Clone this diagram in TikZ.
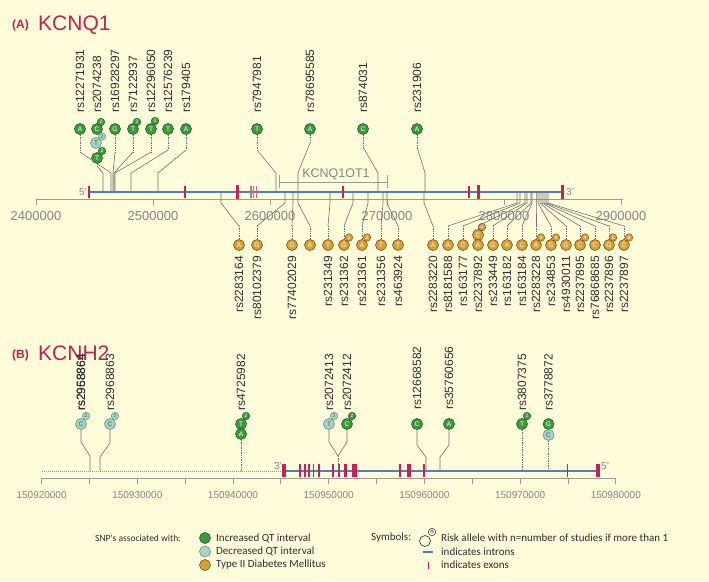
\documentclass[tikz,border=0pt]{standalone}
\usepackage{fontspec}
\setmainfont{Liberation Sans}
\newfontfamily\legfont{Carlito}
\definecolor{bgc}{HTML}{FEFCDA}
\definecolor{gfill}{HTML}{3C9B3C}
\definecolor{gdark}{HTML}{1E5E1E}
\definecolor{bfill}{HTML}{A8D4C4}
\definecolor{bdark}{HTML}{5F8F85}
\definecolor{btext}{HTML}{3D5F58}
\definecolor{ofill}{HTML}{D9A037}
\definecolor{odark}{HTML}{7A5410}
\definecolor{titlec}{HTML}{C0244B}
\definecolor{exonc}{HTML}{C42453}
\definecolor{exonl}{HTML}{D86A84}
\definecolor{intronc}{HTML}{4F7FC0}
\definecolor{linec}{HTML}{707070}
\definecolor{axisc}{HTML}{9A9A9A}
\definecolor{labc}{HTML}{2E2E2E}
\definecolor{grayt}{HTML}{858585}
\tikzset{
 snpg/.style={circle, draw=gdark, fill=gfill, line width=0.6pt, inner sep=0pt, minimum size=11pt, text=white, font=\fontsize{6.5}{7}\selectfont},
 snpb/.style={snpg, draw=bdark, fill=bfill, text=btext},
 snpo/.style={snpg, draw=odark, fill=ofill},
 bubg/.style={circle, draw=gdark, fill=gfill, line width=0.5pt, inner sep=0pt, minimum size=7.5pt, text=white, font=\fontsize{5}{5}\selectfont},
 bubb/.style={bubg, draw=bdark, fill=bfill, text=btext},
 bubo/.style={bubg, draw=odark, fill=ofill},
 lab/.style={rotate=90, inner sep=0pt, font=\fontsize{12}{12}\selectfont, text=labc},
 labup/.style={lab, anchor=west},
 labdn/.style={lab, anchor=east},
 conn/.style={draw=linec, line width=0.6pt},
 connd/.style={draw=linec, line width=0.7pt, densely dotted},
 axisl/.style={draw=axisc, line width=0.8pt},
 tickl/.style={text=grayt, inner sep=0pt, font=\fontsize{13}{13}\selectfont},
 tickls/.style={text=grayt, inner sep=0pt, font=\fontsize{10}{10}\selectfont},
 intron/.style={draw=intronc, line width=2pt},
 exthin/.style={draw=exonc, line width=1.3pt},
 exlight/.style={draw=exonl, line width=1.3pt},
 exthick/.style={draw=exonc, line width=3pt},
 endlab/.style={text=grayt, inner sep=0pt, font=\fontsize{10}{10}\selectfont},
 leg/.style={inner sep=0pt, text=labc, font=\legfont\fontsize{11}{11}\selectfont, anchor=west},
}
\newcommand\TopPath[3]{%
 \draw[connd] (#1.south) -- (#1.south |- 0,#2);
 \draw[conn] (#1.south |- 0,#2) -- (#3 |- 0,173) -- (#3);}
\newcommand\BotPath[2]{%
 \draw[conn] (#2) -- (#2 |- 0,203) -- (#1.north |- 0,226);
 \draw[connd] (#1.north |- 0,226) -- (#1.north);}
\begin{document}
\begin{tikzpicture}[x=1pt,y=-1pt]
\fill[bgc] (0,0) rectangle (709,581);
\useasboundingbox (0,0) rectangle (709,581);

% ---------- titles
\node[anchor=base west, text=titlec, inner sep=0pt, font=\bfseries\fontsize{12}{12}\selectfont] (ta) at (12,28) {(A)};
\node[anchor=base west, text=titlec, inner sep=0pt, font=\fontsize{21}{21}\selectfont] (tq) at (38,30) {KCNQ1};
\node[anchor=base west, text=titlec, inner sep=0pt, font=\bfseries\fontsize{12}{12}\selectfont] (tb) at (12,358) {(B)};
\node[anchor=base west, text=titlec, inner sep=0pt, font=\fontsize{21}{21}\selectfont] (th) at (38,360) {KCNH2};

% ---------- KCNQ1 axis
\draw[axisl] (36,199) -- (623,199);
\foreach \i in {0,...,5} {\draw[axisl] (36+117*\i,199) -- (36+117*\i,205);}
\foreach \i/\t in {0/2400000,1/2500000,2/2600000,3/2700000,4/2800000,5/2900000}
 {\node[tickl] (qa\i) at (36+117*\i,216) {\t};}

% ---------- KCNQ1 gene
\draw[intron] (89,192) -- (562,192);
\foreach \x in {185,343,469} {\draw[exthin] (\x,186) -- (\x,198);}
\foreach \x in {251,253.6,256.2} {\draw[exlight] (\x,186) -- (\x,198);}
\draw[exthin] (89,186) -- (89,198);
\foreach \x in {237,478,562} {\draw[exthick] (\x,185) -- (\x,199);}
\node[endlab, anchor=east] (q5p) at (87,192) {5'};
\node[endlab, anchor=west] (q3p) at (566,192) {3'};

% KCNQ1OT1
\draw[axisl] (279,182) -- (387,182);
\draw[axisl] (279,175) -- (279,188);
\draw[axisl] (387,175) -- (387,188);
\node[text=grayt, inner sep=0pt, font=\fontsize{12.5}{12.5}\selectfont] (ot) at (336,174) {KCNQ1OT1};

% ---------- KCNQ1 upper SNPs (green)
\coordinate (q1g) at (111,192);
\coordinate (q2g) at (103,192);
\coordinate (q3g) at (113,192);
\coordinate (q4g) at (114,192);
\coordinate (q5g) at (115,192);
\coordinate (q6g) at (131,192);
\coordinate (q7g) at (158,192);
\coordinate (q8g) at (276,192);
\coordinate (q9g) at (298,192);
\coordinate (q10g) at (378,192);
\coordinate (q11g) at (425,192);

\node[snpg] (q1) at (80,129) {A};
\node[snpg] (q2) at (97,129) {C};
\node[snpb] (q2b) at (96,143) {T};
\node[snpg] (q2c) at (97,158) {T};
\node[snpg] (q3) at (115,129) {G};
\node[snpg] (q4) at (133,129) {T};
\node[snpg] (q5) at (151,129) {T};
\node[snpg] (q6) at (168,129) {T};
\node[snpg] (q7) at (186,129) {A};
\node[snpg] (q8) at (257,129) {T};
\node[snpg] (q9) at (310,129) {A};
\node[snpg] (q10) at (363,129) {C};
\node[snpg] (q11) at (417,129) {A};
\node[bubg] (q2n) at (101,122) {2};
\node[bubb] (q2bn) at (102,136.5) {2};
\node[bubg] (q2cn) at (102,151) {2};
\node[bubg] (q4n) at (137,122) {2};
\node[bubg] (q5n) at (155,121) {3};

\node[labup] (q1l) at (80,113) {rs12271931};
\node[labup] (q2l) at (97,113) {rs2074238};
\node[labup] (q3l) at (115,113) {rs16928297};
\node[labup] (q4l) at (133,113) {rs7122937};
\node[labup] (q5l) at (151,113) {rs12296050};
\node[labup] (q6l) at (168,113) {rs12576239};
\node[labup] (q7l) at (186,113) {rs179405};
\node[labup] (q8l) at (257,113) {rs7947981};
\node[labup] (q9l) at (310,113) {rs78695585};
\node[labup] (q10l) at (363,113) {rs874031};
\node[labup] (q11l) at (417,113) {rs231906};

\TopPath{q1}{152}{q1g}
\TopPath{q2c}{166}{q2g}
\TopPath{q3}{152}{q3g}
\TopPath{q4}{152}{q4g}
\TopPath{q5}{152}{q5g}
\TopPath{q6}{150}{q6g}
\TopPath{q7}{150}{q7g}
\TopPath{q8}{150}{q8g}
\TopPath{q9}{143}{q9g}
\TopPath{q10}{147}{q10g}
\TopPath{q11}{147}{q11g}

% ---------- KCNQ1 lower SNPs (orange)
\coordinate (b1g) at (221,192);
\coordinate (b2g) at (285,192);
\coordinate (b3g) at (293,192);
\coordinate (b4g) at (298,192);
\coordinate (b5g) at (330,192);
\coordinate (b6g) at (353,192);
\coordinate (b7g) at (368,192);
\coordinate (b8g) at (383,192);
\coordinate (b9g) at (387,192);
\coordinate (b10g) at (424,192);
\coordinate (b11g) at (517,192);
\coordinate (b12g) at (520,192);
\coordinate (b13g) at (525,192);
\coordinate (b14g) at (527,192);
\coordinate (b15g) at (531,192);
\coordinate (b16g) at (532,192);
\coordinate (b17g) at (536,192);
\coordinate (b18g) at (538,192);
\coordinate (b19g) at (540,192);
\coordinate (b20g) at (542,192);
\coordinate (b21g) at (544,192);
\coordinate (b22g) at (546,192);
\coordinate (b23g) at (548,192);

\node[snpo] (b1) at (239,245) {A};
\node[snpo] (b2) at (257,245) {G};
\node[snpo] (b3) at (292,245) {G};
\node[snpo] (b4) at (310,245) {A};
\node[snpo] (b5) at (328,245) {T};
\node[snpo] (b6) at (344,245) {G};
\node[snpo] (b7) at (362,245) {A};
\node[snpo] (b8) at (381,245) {T};
\node[snpo] (b9) at (398,245) {T};
\node[snpo] (b10) at (433,245) {A};
\node[snpo] (b11) at (448,245) {A};
\node[snpo] (b12) at (463,245) {C};
\node[snpo] (b13b) at (478,235) {C};
\node[snpo] (b13) at (478,245) {A};
\node[snpo] (b14) at (493,245) {G};
\node[snpo] (b15) at (507,245) {A};
\node[snpo] (b16) at (522,245) {C};
\node[snpo] (b17) at (536,245) {A};
\node[snpo] (b18) at (551,245) {G};
\node[snpo] (b19) at (566,245) {G};
\node[snpo] (b20) at (580,245) {C};
\node[snpo] (b21) at (595,245) {C};
\node[snpo] (b22) at (609,245) {G};
\node[snpo] (b23) at (624,245) {C};
\node[bubo] (b6n) at (349,237.5) {2};
\node[bubo] (b7n) at (367,237.5) {2};
\node[bubo] (b13n) at (482,227) {5};
\node[bubo] (b17n) at (541,237.5) {4};
\node[bubo] (b18n) at (556,237.5) {4};
\node[bubo] (b20n) at (585,237.5) {4};
\node[bubo] (b22n) at (613,237.5) {2};
\node[bubo] (b23n) at (629,237.5) {8};

\node[labdn] (b1l) at (239,256) {rs2283164};
\node[labdn] (b2l) at (257,256) {rs80102379};
\node[labdn] (b3l) at (292,256) {rs77402029};
\node[labdn] (b5l) at (328,256) {rs231349};
\node[labdn] (b6l) at (344,256) {rs231362};
\node[labdn] (b7l) at (362,256) {rs231361};
\node[labdn] (b8l) at (381,256) {rs231356};
\node[labdn] (b9l) at (398,256) {rs463924};
\node[labdn] (b10l) at (433,256) {rs2283220};
\node[labdn] (b11l) at (448,256) {rs8181588};
\node[labdn] (b12l) at (463,256) {rs163177};
\node[labdn] (b13l) at (478,256) {rs2237892};
\node[labdn] (b14l) at (493,256) {rs233449};
\node[labdn] (b15l) at (507,256) {rs163182};
\node[labdn] (b16l) at (522,256) {rs163184};
\node[labdn] (b17l) at (536,256) {rs2283228};
\node[labdn] (b18l) at (551,256) {rs234853};
\node[labdn] (b19l) at (566,256) {rs4930011};
\node[labdn] (b20l) at (580,256) {rs2237895};
\node[labdn] (b21l) at (595,256) {rs76868685};
\node[labdn] (b22l) at (609,256) {rs2237896};
\node[labdn] (b23l) at (624,256) {rs2237897};

\BotPath{b1}{b1g}
\BotPath{b2}{b2g}
\BotPath{b3}{b3g}
\BotPath{b4}{b4g}
\BotPath{b5}{b5g}
\BotPath{b6}{b6g}
\BotPath{b7}{b7g}
\BotPath{b8}{b8g}
\BotPath{b9}{b9g}
\BotPath{b10}{b10g}
\BotPath{b11}{b11g}
\BotPath{b12}{b12g}
\BotPath{b13b}{b13g}
\BotPath{b14}{b14g}
\BotPath{b15}{b15g}
\BotPath{b16}{b16g}
\BotPath{b17}{b17g}
\BotPath{b18}{b18g}
\BotPath{b19}{b19g}
\BotPath{b20}{b20g}
\BotPath{b21}{b21g}
\BotPath{b22}{b22g}
\BotPath{b23}{b23g}

% ---------- KCNH2 axis
\draw[axisl] (41.6,478) -- (615.8,478);
\foreach \i in {0,...,12} {\draw[axisl] (41.6+47.85*\i,478) -- (41.6+47.85*\i,484);}
\foreach \i/\t in {0/150920000,1/150930000,2/150940000,3/150950000,4/150960000,5/150970000,6/150980000}
 {\node[tickls] (ha\i) at (41.6+95.7*\i,495) {\t};}

% ---------- KCNH2 gene
\draw[draw=axisc, line width=1pt, densely dotted] (41.6,471) -- (281,471);
\draw[intron] (284,471) -- (598,471);
\foreach \x in {300.2,304.8,308.8,313.4,319.2,332.8,339.1,400,423.7,567.5} {\draw[draw=exonc, line width=1.8pt] (\x,464) -- (\x,477);}
\draw[draw=exonc, line width=2.5pt] (345.4,464) -- (345.4,477);
\foreach \x in {284,354.5,408.8,597.8} {\draw[draw=exonc, line width=4.5pt] (\x,464) -- (\x,477);}
\node[endlab, anchor=east] (h3p) at (282,466) {3'};
\node[endlab, anchor=west] (h5p) at (601,466) {5'};

% ---------- KCNH2 SNPs
\coordinate (h1g) at (90,471);
\coordinate (h2g) at (100,471);
\coordinate (h3g) at (241,471);
\coordinate (h4g) at (338,471);
\coordinate (h6g) at (426,471);
\coordinate (h7g) at (440,471);
\coordinate (h8g) at (522,471);
\coordinate (h9g) at (548.5,471);

\node[snpb] (h1) at (81,424) {C};
\node[snpb] (h2) at (110,424) {C};
\node[snpg] (h3) at (241,424) {T};
\node[snpg] (h3b) at (241,434) {A};
\node[snpb] (h4) at (329,424) {T};
\node[snpg] (h5) at (347,424) {C};
\node[snpg] (h6) at (417,424) {C};
\node[snpg] (h7) at (449,424) {A};
\node[snpg] (h8) at (522,424) {T};
\node[snpg] (h9) at (548.5,424) {G};
\node[snpb] (h9b) at (548.5,435) {C};
\node[bubb] (h1n) at (86,416) {2};
\node[bubb] (h2n) at (115,416) {2};
\node[bubg] (h3n) at (246,416) {2};
\node[bubb] (h4n) at (334,416) {2};
\node[bubg] (h5n) at (352,416) {2};
\node[bubg] (h8n) at (527,416) {2};

\node[labup] (h1l) at (81,411) {rs2958864};
\node[labup] (h1m) at (81,411) {rs2968864};
\node[labup] (h2l) at (110,411) {rs2968863};
\node[labup] (h3l) at (241,411) {rs4725982};
\node[labup] (h4l) at (329,411) {rs2072413};
\node[labup] (h5l) at (347,411) {rs2072412};
\node[labup] (h6l) at (417,410) {rs12668582};
\node[labup] (h7l) at (449,410) {rs35760656};
\node[labup] (h8l) at (522,411) {rs3807375};
\node[labup] (h9l) at (548.5,411) {rs3778872};

\draw[conn] (h1.south) -- (h1.south |- 0,442) -- (h1g |- 0,456) -- (h1g);
\draw[conn] (h2.south) -- (h2.south |- 0,443) -- (h2g |- 0,457) -- (h2g);
\draw[connd] (h3b.south) -- (h3g);
\draw[conn] (h4.south) -- (h4.south |- 0,442) -- (h4g |- 0,456);
\draw[conn] (h5.south) -- (h5.south |- 0,442) -- (h4g |- 0,456);
\draw[connd] (h4g |- 0,456) -- (h4g);
\draw[conn] (h6.south) -- (h6.south |- 0,445) -- (h6g |- 0,457) -- (h6g);
\draw[conn] (h7.south) -- (h7.south |- 0,445) -- (h7g |- 0,457) -- (h7g);
\draw[connd] (h8.south) -- (h8g);
\draw[connd] (h9b.south) -- (h9g);

% ---------- legend
\node[inner sep=0pt, text=labc, font=\legfont\fontsize{9.5}{9.5}\selectfont, anchor=east] (lt) at (181,538) {SNP's associated with:};
\node[snpg] (lg) at (205,538) {};
\node[snpb] (lb) at (205,551.5) {};
\node[snpo] (lo) at (205,565) {};
\node[leg] (lgt) at (216,538) {Increased QT interval};
\node[leg] (lbt) at (216,551.5) {Decreased QT interval};
\node[leg] (lot) at (216,565) {Type II Diabetes Mellitus};
\node[leg] (ls) at (371,538) {Symbols:};
\node[circle, draw=labc, fill=bgc, line width=0.6pt, inner sep=0pt, minimum size=11pt] (lsym) at (425,541) {};
\node[circle, draw=labc, fill=bgc, line width=0.5pt, inner sep=0pt, minimum size=7.5pt, font=\fontsize{6}{6}\selectfont] (lsymn) at (432,532) {n};
\node[leg] (lst) at (441,538) {Risk allele with n=number of studies if more than 1};
\coordinate (li1) at (423,552);
\coordinate (li2) at (433,552);
\draw[intron, line width=1.6pt] (li1) -- (li2);
\node[leg] (lit) at (441,551.5) {indicates introns};
\coordinate (le1) at (428.5,562);
\coordinate (le2) at (428.5,569);
\draw[exthin, line width=1.6pt] (le1) -- (le2);
\node[leg] (let) at (441,565) {indicates exons};
\end{tikzpicture}
\end{document}
